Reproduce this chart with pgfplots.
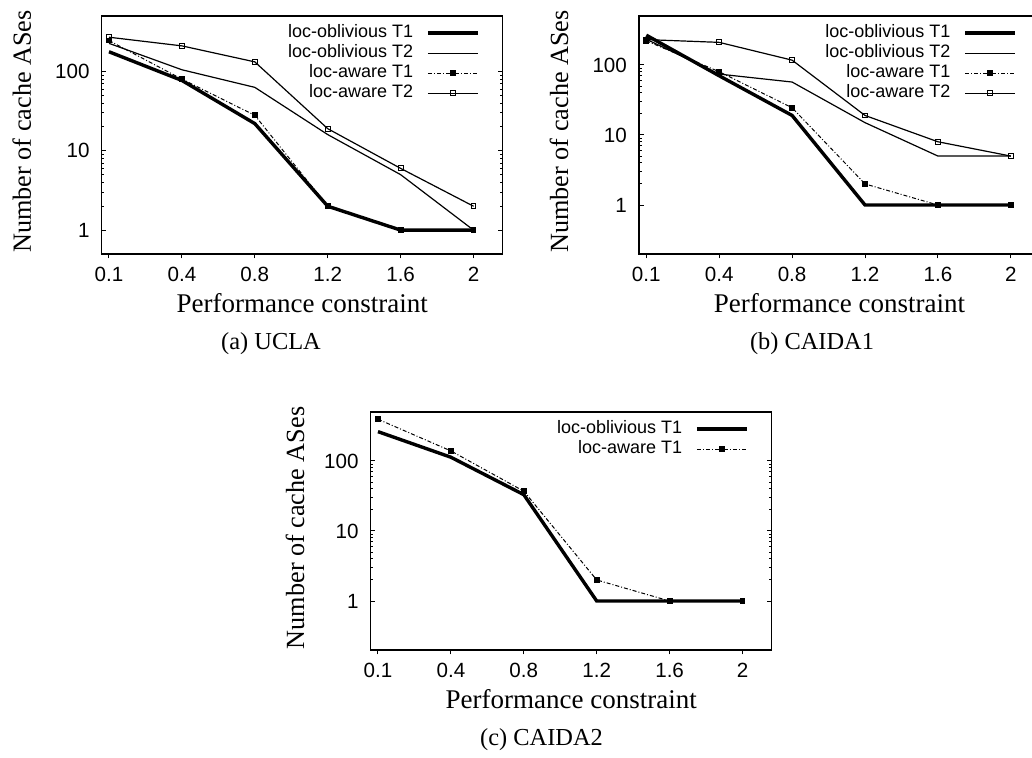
\documentclass[border=0pt]{standalone}
\usepackage{fontspec}
\setmainfont{Liberation Serif}
\newfontfamily\hsans{Liberation Sans}
\usepackage{pgfplots}
\usepackage{pgfplotstable}
\pgfplotsset{compat=1.18}

\pgfplotstableread{
x oT1 oT2 aT1 aT2
0 177 226 245 270
1 77 105 80 210
2 22 63 28 132
3 2 16 2 19
4 1 5 1 6
5 1 1 1 2
}\ucla
\pgfplotstableread{
x oT1 oT2 aT1 aT2
0 266 233 221 230
1 70 74 80 210
2 19 57 24.5 117
3 1 15 2 19
4 1 5 1 8
5 1 5 1 5
}\caidaone
\pgfplotstableread{
x oT1 aT1
0 262 394
1 113 139
2 33 37
3 1 2
4 1 1
5 1 1
}\caidatwo

\pgfplotsset{
 mylegend/.style={legend image code/.code={\draw[mark repeat=2,mark phase=2,##1] plot coordinates {(0pt,0pt) (12.5pt,0pt) (25pt,0pt)};}},
 oblT1/.style={black, line width=1.7pt, mark=none, mylegend},
 oblT2/.style={black, line width=0.6pt, mark=none, mylegend},
 awaT1/.style={black, line width=0.5pt, dash pattern=on 2pt off 1pt on 0.5pt off 1pt, mark=square*, mark size=1.2pt, mark options={solid}, mylegend},
 awaT2/.style={black, line width=0.6pt, mark=square, mark size=1.2pt, mark options={solid, line width=0.5pt, fill=white}, mylegend},
}
\pgfplotsset{
 every axis/.append style={
  scale only axis, width=200.5pt, height=119pt,
  xmin=-0.1, xmax=5.4,
  xtick={0,...,5}, xticklabels={0.1,0.4,0.8,1.2,1.6,2},
  ytick={1,10,100}, log ticks with fixed point,
  ticklabel style={font=\hsans\fontsize{10.3}{12}\selectfont},
  xticklabel style={anchor=center, yshift=-8pt},
  yticklabel style={anchor=east, inner sep=0pt, xshift=-5.85pt},
  xtick pos=bottom, ytick pos=both,
  xtick align=outside, ytick align=inside,
  major tick length=2.25pt, minor tick length=1.25pt,
  tick style={black, line width=0.5pt},
  axis line style={line width=0.65pt},
  xlabel={Performance constraint},
  ylabel={Number of cache ASes},
  every axis x label/.style={at={(axis description cs:0.5,-0.206)}, anchor=center, font=\fontsize{13.5}{15}\selectfont},
  every axis y label/.style={at={(axis description cs:-0.1995,0.515)}, anchor=center, rotate=90, font=\fontsize{13.1}{15}\selectfont},
  legend cell align=right,
  legend plot pos=right,
  legend style={at={(rel axis cs:1,1)}, anchor=north east, xshift=-11.35pt, yshift=-3.4pt,
    draw=none, fill=none, inner sep=0pt, column sep=6.5pt,
    font=\hsans\fontsize{9}{10}\selectfont,
    nodes={inner sep=0pt, text height=7pt, text depth=3pt}},
 },
}

\begin{document}
\begin{tikzpicture}
\useasboundingbox (0,0) rectangle (516pt,379pt);
\clip (0,0) rectangle (516pt,379pt);

\begin{axis}[ymode=log, /pgf/number format/assume math mode=true, at={(50.85pt,252pt)}, anchor=south west, ymin=0.5, ymax=500]
\addplot[oblT1] table[x=x,y=oT1]{\ucla};
\addlegendentry{loc-oblivious T1}
\addplot[oblT2] table[x=x,y=oT2]{\ucla};
\addlegendentry{loc-oblivious T2}
\addplot[awaT1] table[x=x,y=aT1]{\ucla};
\addlegendentry{loc-aware T1}
\addplot[awaT2] table[x=x,y=aT2]{\ucla};
\addlegendentry{loc-aware T2}
\end{axis}

\begin{axis}[ymode=log, /pgf/number format/assume math mode=true, at={(319.5pt,252pt)}, anchor=south west, ymin=0.2, ymax=500]
\addplot[oblT1] table[x=x,y=oT1]{\caidaone};
\addlegendentry{loc-oblivious T1}
\addplot[oblT2] table[x=x,y=oT2]{\caidaone};
\addlegendentry{loc-oblivious T2}
\addplot[awaT1] table[x=x,y=aT1]{\caidaone};
\addlegendentry{loc-aware T1}
\addplot[awaT2] table[x=x,y=aT2]{\caidaone};
\addlegendentry{loc-aware T2}
\end{axis}

\begin{axis}[ymode=log, /pgf/number format/assume math mode=true, at={(185.35pt,54pt)}, anchor=south west, ymin=0.2, ymax=500,
  every axis y label/.style={at={(axis description cs:-0.189,0.513)}, anchor=center, rotate=90, font=\fontsize{13.1}{15}\selectfont}]
\addplot[oblT1] table[x=x,y=oT1]{\caidatwo};
\addlegendentry{loc-oblivious T1}
\addplot[awaT1] table[x=x,y=aT1]{\caidatwo};
\addlegendentry{loc-aware T1}
\end{axis}

\node[font=\fontsize{12.2}{14}\selectfont] at (135.5pt,207pt) {(a) UCLA};
\node[font=\fontsize{12.2}{14}\selectfont] at (406pt,207pt) {(b) CAIDA1};
\node[font=\fontsize{12.2}{14}\selectfont] at (270.75pt,9pt) {(c) CAIDA2};
\end{tikzpicture}
\end{document}
